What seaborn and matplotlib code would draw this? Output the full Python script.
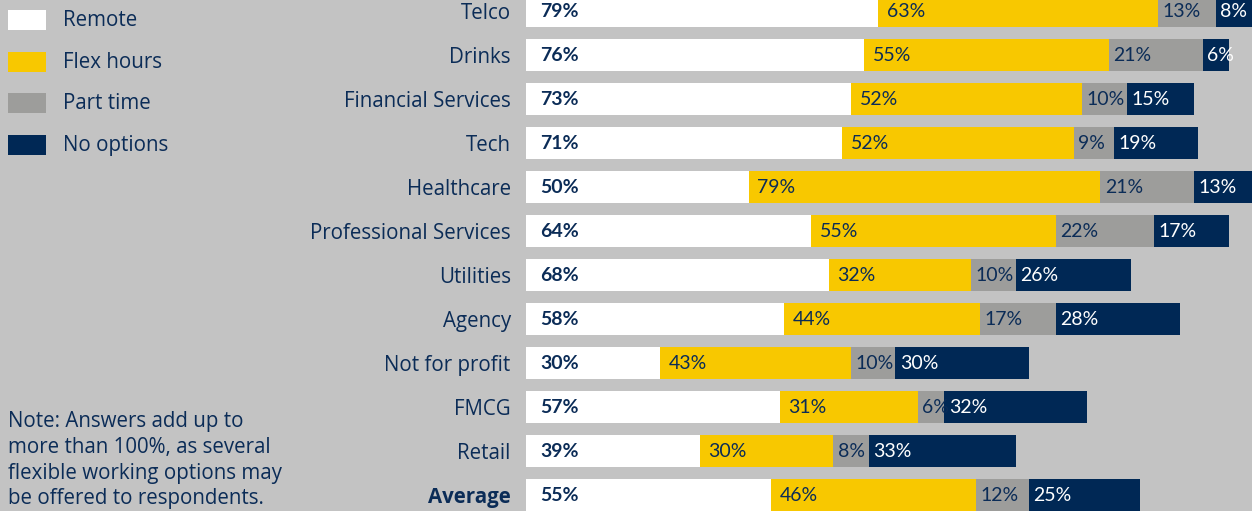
# Stacked horizontal bars: flexible working options by sector
import pandas as pd
import matplotlib
matplotlib.use("Agg")
import matplotlib.pyplot as plt
import seaborn as sns

# Data
sectors = ["Telco", "Drinks", "Financial Services", "Tech", "Healthcare",
           "Professional Services", "Utilities", "Agency", "Not for profit",
           "FMCG", "Retail", "Average"]
remote = [79, 76, 73, 71, 50, 64, 68, 58, 30, 57, 39, 55]
flex_hours = [63, 55, 52, 52, 79, 55, 32, 44, 43, 31, 30, 46]
part_time = [13, 21, 10, 9, 21, 22, 10, 17, 10, 6, 8, 12]
no_options = [8, 6, 15, 19, 13, 17, 26, 28, 30, 32, 33, 25]
series_names = ["Remote", "Flex hours", "Part time", "No options"]

note = ("Note: Answers add up to\nmore than 100%, as several\n"
        "flexible working options may\nbe offered to respondents.")

BG = "#c3c3c3"
NAVY = "#0b2c57"
colors = {"Remote": "#ffffff", "Flex hours": "#f8c800",
          "Part time": "#9d9d9b", "No options": "#002855"}
TEXT_FONT = ["Open Sans", "DejaVu Sans"]
NUM_FONT = ["Lato", "DejaVu Sans"]

sns.set_theme(style="white")
plt.rcParams["font.family"] = TEXT_FONT

df = pd.DataFrame({"sector": sectors, "Remote": remote, "Flex hours": flex_hours,
                   "Part time": part_time, "No options": no_options})
# cumulative ends for each segment
df["c1"] = df["Remote"]
df["c2"] = df["c1"] + df["Flex hours"]
df["c3"] = df["c2"] + df["Part time"]
df["c4"] = df["c3"] + df["No options"]

fig = plt.figure(figsize=(12.52, 5.11), dpi=100, facecolor=BG)
ax = fig.add_axes([526 / 1252, 0, 726 / 1252, 1])
ax.set_facecolor(BG)

# draw longest first, then overlay shorter cumulative bars
for col, name in zip(["c4", "c3", "c2", "c1"], series_names[::-1]):
    sns.barplot(data=df, x=col, y="sector", order=sectors, orient="h",
                color=colors[name], width=0.73, saturation=1,
                linewidth=0, ax=ax)

ax.set_xlim(0, 163.1)
ax.set_ylim(11.36, -0.25)
ax.set_xlabel("")
ax.set_ylabel("")
ax.set_xticks([])
sns.despine(ax=ax, left=True, bottom=True)

# category labels
ax.tick_params(axis="y", length=0, pad=11, labelsize=14.8, labelcolor=NAVY)
ax.set_yticks(range(len(sectors)))
ax.set_yticklabels(sectors)
for lbl in ax.get_yticklabels():
    lbl.set_va("center_baseline")
    if lbl.get_text() == "Average":
        lbl.set_fontweight("bold")

# value labels
for i, row in df.iterrows():
    ax.text(3.2, i, f"{row['Remote']}%", va="center", ha="left",
            fontsize=14, fontweight="bold", color=NAVY, family=NUM_FONT)
    ax.text(row["c1"] + 2.0, i, f"{row['Flex hours']}%", va="center", ha="left",
            fontsize=14, color=NAVY, family=NUM_FONT)
    ax.text(row["c2"] + 1.0, i, f"{row['Part time']}%", va="center", ha="left",
            fontsize=14, color=NAVY, family=NUM_FONT)
    ax.text(row["c3"] + 1.0, i, f"{row['No options']}%", va="center", ha="left",
            fontsize=14, color="white", family=NUM_FONT)

# legend on the left
legend_y = [20, 62, 103, 145]
for name, y in zip(series_names, legend_y):
    fig.patches.append(plt.Rectangle((8 / 1252, 1 - (y + 10) / 511), 38 / 1252, 20 / 511,
                                     transform=fig.transFigure, facecolor=colors[name],
                                     edgecolor="none"))
    fig.text(63 / 1252, 1 - y / 511, name, va="center", ha="left",
             fontsize=14.8, color=NAVY)

fig.text(8 / 1252, 1 - 411 / 511, note, va="top", ha="left",
         fontsize=14.8, color=NAVY, linespacing=1.3)

fig.savefig("out.png", dpi=100, facecolor=BG)
